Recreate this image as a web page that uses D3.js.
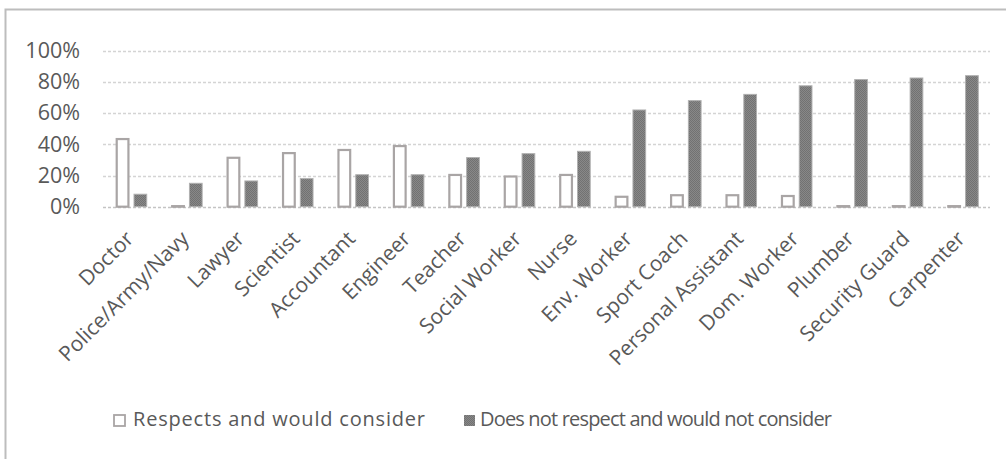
<!DOCTYPE html>
<html><head><meta charset="utf-8">
<script src="https://cdn.jsdelivr.net/npm/d3@7"></script>
<style>
html,body{margin:0;padding:0;background:#fff;}
svg{display:block;}
text{font-family:"Open Sans","Liberation Sans",sans-serif;fill:#595959;}
</style></head>
<body><svg id="chart" width="1006" height="459"></svg>
<script>
const categories = ["Doctor","Police/Army/Navy","Lawyer","Scientist","Accountant","Engineer","Teacher","Social Worker","Nurse","Env. Worker","Sport Coach","Personal Assistant","Dom. Worker","Plumber","Security Guard","Carpenter"];
const seriesNames = ["Respects and would consider","Does not respect and would not consider"];
const respects = [0.44,0.01,0.32,0.35,0.37,0.395,0.21,0.20,0.21,0.07,0.08,0.08,0.075,0.01,0.01,0.01];
const notRespects = [0.08,0.15,0.165,0.18,0.205,0.205,0.315,0.34,0.355,0.62,0.68,0.72,0.775,0.815,0.825,0.84];
const yTicks = [0,0.2,0.4,0.6,0.8,1.0];

const svg = d3.select("#chart");
const defs = svg.append("defs");
const pat = defs.append("pattern").attr("id","dither").attr("width",2).attr("height",2).attr("patternUnits","userSpaceOnUse");
pat.append("rect").attr("width",2).attr("height",2).attr("fill","#888888");
pat.append("rect").attr("width",1).attr("height",1).attr("fill","#727272");
pat.append("rect").attr("x",1).attr("y",1).attr("width",1).attr("height",1).attr("fill","#727272");

// frame
svg.append("rect").attr("x",5.5).attr("y",9.5).attr("width",1010).attr("height",460)
  .attr("fill","none").attr("stroke","#bdbdbd").attr("stroke-width",2);

const x0 = d3.scaleBand().domain(categories).range([103,990]);
const x1 = d3.scaleBand().domain([0,1]).range([-16,16]).paddingInner(0.25);
const y = d3.scaleLinear().domain([0,1]).range([206.7,50.7]);

// gridlines
svg.append("g").selectAll("line").data(yTicks).join("line")
  .attr("x1",103).attr("x2",990)
  .attr("y1",d=>Math.round(y(d))+0.5).attr("y2",d=>Math.round(y(d))+0.5)
  .attr("stroke",d=>d===0?"#c4c4c4":"#d4d4d4").attr("stroke-width",1.5)
  .attr("stroke-dasharray","3,2");

// y axis labels
const yAxis = d3.axisLeft(y).tickValues(yTicks).tickFormat(d3.format(".0%")).tickSize(0).tickPadding(0);
const ga = svg.append("g").attr("transform","translate(80,0)").call(yAxis);
ga.select(".domain").remove();
ga.selectAll("text").attr("font-size",21.5).attr("fill","#595959")
  .style("font-family","'Open Sans','Liberation Sans',sans-serif");

// bars
const g = svg.append("g");
categories.forEach((c,i)=>{
  const cx = x0(c)+x0.bandwidth()/2+1;
  const v0 = respects[i], v1 = notRespects[i];
  g.append("rect")
    .attr("x",cx+x1(0)+1).attr("width",x1.bandwidth()-2)
    .attr("y",y(v0)+1).attr("height",Math.max(0,y(0)-y(v0)-1))
    .attr("fill","#fff").attr("stroke","#a9a5a5").attr("stroke-width",2.2);
  g.append("rect")
    .attr("x",cx+x1(1)).attr("width",x1.bandwidth()-1)
    .attr("y",y(v1)).attr("height",y(0)-y(v1))
    .attr("fill","url(#dither)").attr("stroke","#b0b0b0").attr("stroke-width",1);
});

// x labels
svg.append("g").selectAll("text").data(categories).join("text")
  .attr("transform",d=>`translate(${x0(d)+x0.bandwidth()/2+4},${240}) rotate(-45)`)
  .attr("text-anchor","end").attr("font-size",21)
  .text(d=>d);

// legend
const leg = svg.append("g");
leg.append("rect").attr("x",114).attr("y",415).attr("width",11).attr("height",11)
  .attr("fill","#fff").attr("stroke","#a9a5a5").attr("stroke-width",1.8);
leg.append("text").attr("x",133).attr("y",426).attr("font-size",20)
  .attr("textLength",292).attr("lengthAdjust","spacing").text(seriesNames[0]);
leg.append("rect").attr("x",464).attr("y",415).attr("width",11).attr("height",11)
  .attr("fill","url(#dither)");
leg.append("text").attr("x",480).attr("y",426).attr("font-size",20)
  .attr("textLength",352).attr("lengthAdjust","spacing").text(seriesNames[1]);
</script></body></html>
